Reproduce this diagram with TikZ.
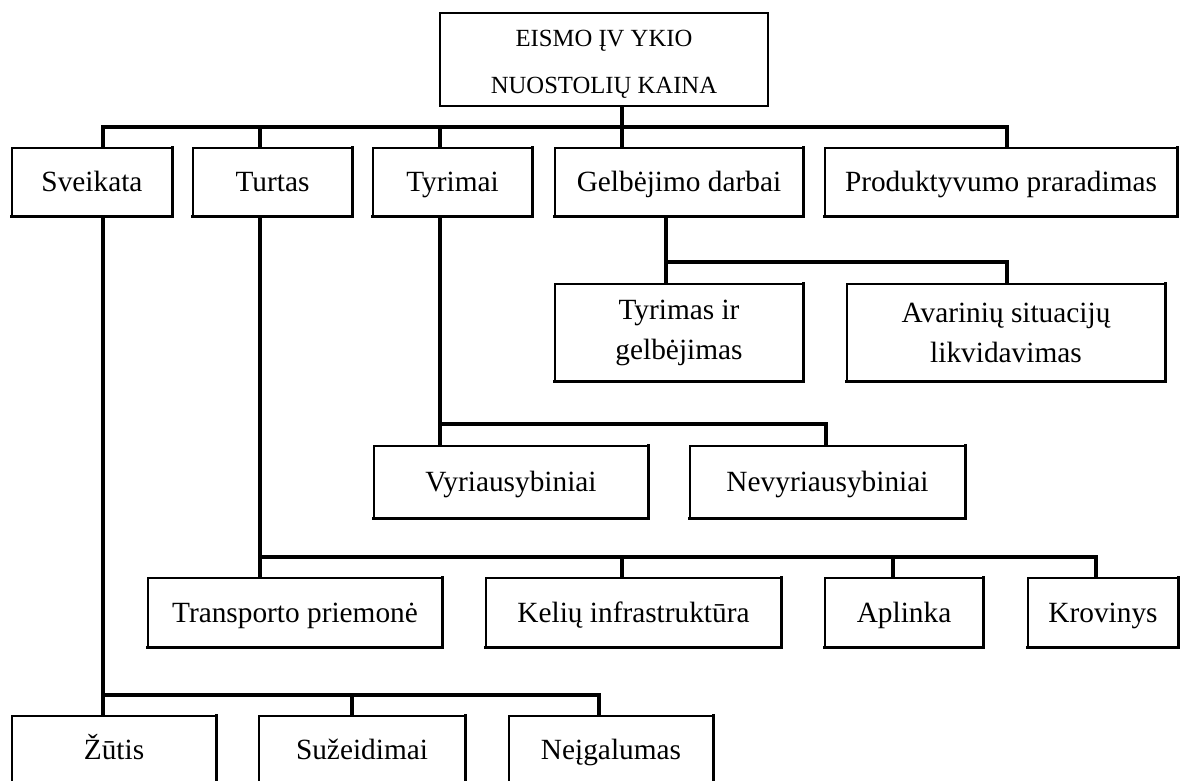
\documentclass[tikz,border=0pt]{standalone}
\usepackage{fontspec}
\setmainfont{Liberation Serif}
\tikzset{
  box/.style={draw, fill=white, line width=1pt, inner sep=0pt, align=center, font=\fontsize{22}{30}\selectfont},
  onebox/.style={box, text height=18pt, text depth=3.4pt},
  topbox/.style={box, font=\fontsize{18.5}{35}\selectfont},
  edge/.style={line width=2.2pt, line cap=rect},
  conn/.style={line width=3pt, line join=miter, line cap=rect},
}
\newcommand\bx[7][onebox]{\node[#1, minimum width={(#5-#3)*0.75pt}, minimum height={(#6-#4)*0.75pt}] (#2) at ({(#3+#5)/2},{(#4+#6)/2}) {#7};}
\begin{document}
\begin{tikzpicture}[x=0.75pt, y=-0.75pt]
\useasboundingbox (0,0) rectangle (1184,781);
\clip (0,0) rectangle (1184,781);
% coordinates of buses and drops
\coordinate (aL) at (103,127);
\coordinate (aT) at (260,127);
\coordinate (aY) at (440,127);
\coordinate (aG) at (622,127);
\coordinate (aR) at (1007,127);
\coordinate (gL) at (666,262);
\coordinate (gR) at (1007,262);
\coordinate (yL) at (440,424);
\coordinate (yR) at (826,424);
\coordinate (tL) at (260,557);
\coordinate (tK) at (622,557);
\coordinate (tA) at (893,557);
\coordinate (tR) at (1096,557);
\coordinate (sL) at (103,695);
\coordinate (sS) at (352,695);
\coordinate (sR) at (599,695);
% boxes
\bx[topbox]{top}{440}{13}{768}{106}{\rule{0pt}{19pt}EISMO ĮV YKIO\\NUOSTOLIŲ KAINA}
\bx{sve}{12}{148}{172}{216}{Sveikata}
\bx{tur}{193}{148}{352}{216}{Turtas}
\bx{tyr}{373}{148}{532}{216}{Tyrimai}
\bx{gel}{555}{148}{803}{216}{Gelbėjimo darbai}
\bx{pro}{825}{148}{1177}{216}{Produktyvumo praradimas}
\bx[box]{tig}{555}{284}{803}{381}{Tyrimas ir\\gelbėjimas}
\bx[box]{ava}{847}{284}{1165}{381}{Avarinių situacijų\\likvidavimas}
\bx{vyr}{374}{446}{648}{518}{Vyriausybiniai}
\bx{nev}{690}{446}{965}{518}{Nevyriausybiniai}
\bx{tra}{148}{578}{442}{647}{Transporto priemonė}
\bx{kel}{486}{578}{781}{647}{Kelių infrastruktūra}
\bx{apl}{825}{578}{983}{647}{Aplinka}
\bx{kro}{1028}{578}{1178}{647}{Krovinys}
\bx{zut}{12}{716}{216}{784}{Žūtis}
\bx{suz}{259}{716}{465}{784}{Sužeidimai}
\bx{nei}{509}{716}{713}{784}{Neįgalumas}
\foreach \n in {sve,tur,tyr,gel,pro,tig,ava,vyr,nev,tra,kel,apl,kro,zut,suz,nei}
  \draw[edge] (\n.north east) -- (\n.south east) -- (\n.south west);
% connectors
\draw[conn] (top.south -| aG) -- (gel.north -| aG);
\draw[conn] (sve.north -| aL) -- (aL) -- (aR) -- (pro.north -| aR);
\draw[conn] (aT) -- (tur.north -| aT);
\draw[conn] (aY) -- (tyr.north -| aY);
\draw[conn] (gel.south -| gL) -- (tig.north -| gL);
\draw[conn] (gL) -- (gR) -- (ava.north -| gR);
\draw[conn] (tyr.south -| yL) -- (vyr.north -| yL);
\draw[conn] (yL) -- (yR) -- (nev.north -| yR);
\draw[conn] (tur.south -| tL) -- (tra.north -| tL);
\draw[conn] (tL) -- (tR) -- (kro.north -| tR);
\draw[conn] (tK) -- (kel.north -| tK);
\draw[conn] (tA) -- (apl.north -| tA);
\draw[conn] (sve.south -| sL) -- (zut.north -| sL);
\draw[conn] (sL) -- (sR) -- (nei.north -| sR);
\draw[conn] (sS) -- (suz.north -| sS);
\end{tikzpicture}
\end{document}
